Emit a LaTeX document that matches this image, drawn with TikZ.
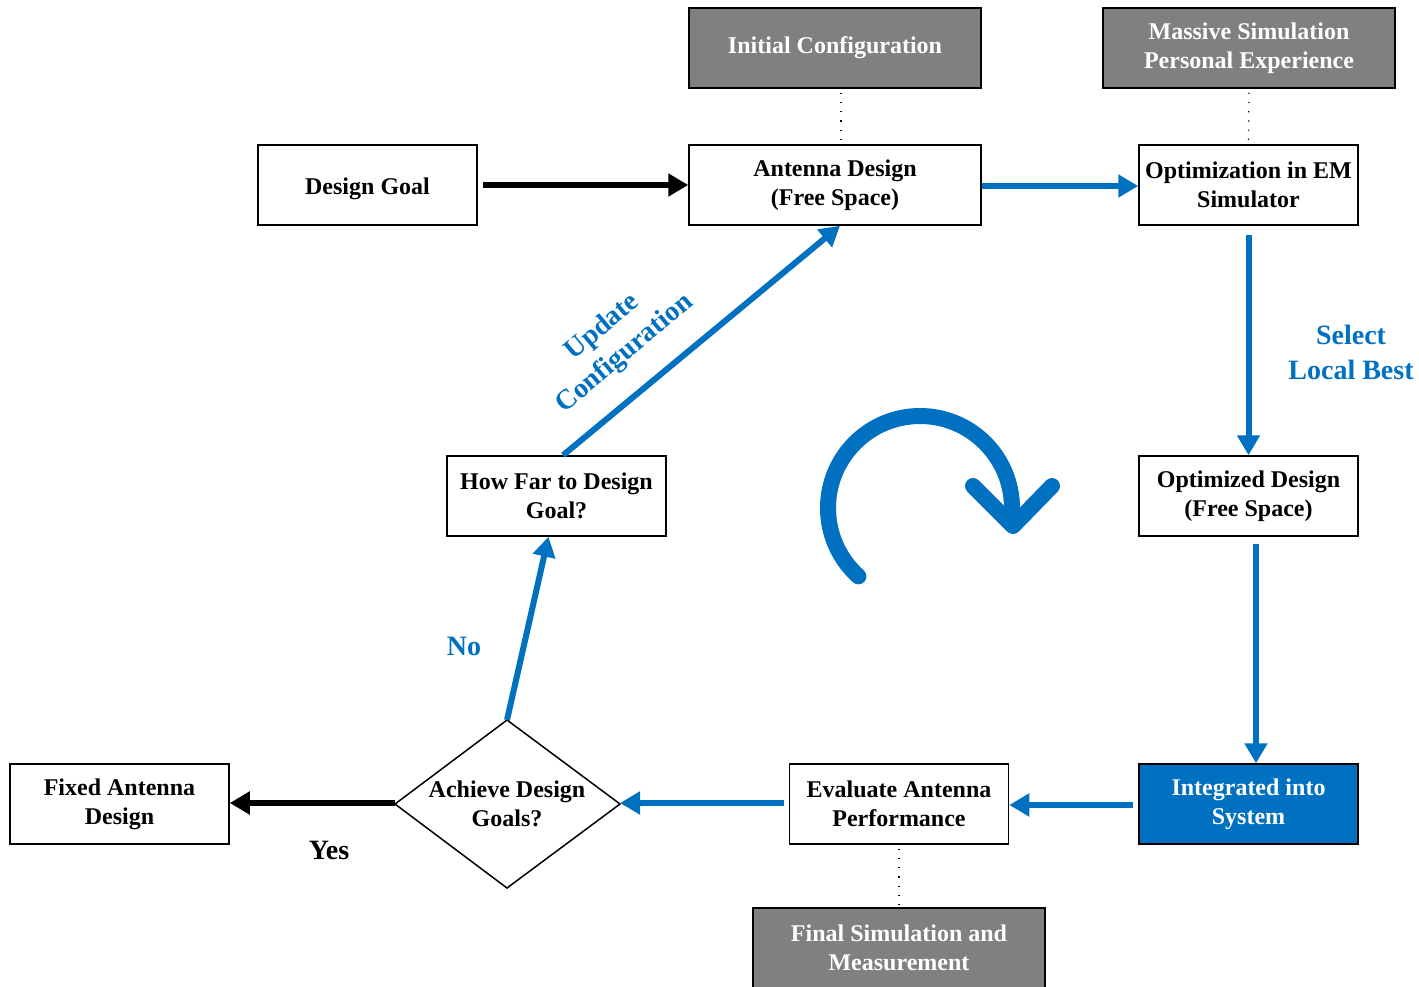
\documentclass[tikz,border=0pt]{standalone}
\usepackage{fontspec}
\setmainfont{Liberation Serif}
\usetikzlibrary{arrows.meta,calc}
\definecolor{myblue}{HTML}{0070C0}
\definecolor{mygray}{HTML}{808080}
\tikzset{
  box/.style={draw=black,line width=1.5pt,fill=white,minimum width=219pt,minimum height=80pt,inner sep=0pt,align=center,font=\fontsize{24pt}{29pt}\selectfont\bfseries},
  widebox/.style={box,minimum width=292pt},
  graybox/.style={widebox,fill=mygray,text=white},
  bluebox/.style={box,fill=myblue,text=white},
  plain/.style={inner sep=0pt,align=center,font=\fontsize{24pt}{29pt}\selectfont\bfseries},
  lbl/.style={inner sep=0pt,align=center,font=\fontsize{28pt}{35pt}\selectfont\bfseries},
  bluearrow/.style={draw=myblue,line width=6pt,-{Triangle[length=20pt,width=22pt]}},
  blackarrow/.style={draw=black,line width=6pt,-{Triangle[length=20pt,width=22pt]}},
  dots/.style={draw=black,line width=1.2pt,dash pattern=on 1.2pt off 8pt},
}
\begin{document}
\begin{tikzpicture}[x=1pt,y=-1pt]
\useasboundingbox (0,0) rectangle (1419,987);
% nodes
\node[box,text depth=0pt] (goal) at (367.5,185) {\raisebox{-3pt}{Design Goal}};
\node[widebox] (ant) at (835,185) {Antenna Design\\(Free Space)};
\node[graybox] (init) at (835,48) {\raisebox{-3pt}{Initial Configuration}};
\node[graybox] (mass) at (1249,48) {Massive Simulation\\Personal Experience};
\node[box] (opt) at (1248.5,185) {Optimization in EM\\Simulator};
\node[box] (optd) at (1248.5,496) {Optimized Design\\(Free Space)};
\node[bluebox] (integ) at (1248.5,804) {Integrated into\\System};
\node[box] (eval) at (899,804) {Evaluate Antenna\\Performance};
\node[graybox] (final) at (899,948) {Final Simulation and\\Measurement};
\node[box] (fixed) at (119.5,804) {Fixed Antenna\\Design};
\node[box] (far) at (556.5,496) {How Far to Design\\Goal?};
% diamond
\coordinate (dT) at (507,720);
\coordinate (dB) at (507,888);
\coordinate (dL) at (395,804);
\coordinate (dR) at (620,804);
\draw[line width=1.5pt,fill=white] (dT) -- (dR) -- (dB) -- (dL) -- cycle;
\node[plain] (ach) at (507,804) {Achieve Design\\Goals?};
% dotted links
\draw[dots] ([xshift=6pt,yshift=-4pt]init.south) -- ([xshift=6pt]ant.north);
\draw[dots] ([yshift=-4pt]mass.south) -- (opt.north);
\draw[dots] ([yshift=-4pt]eval.south) -- (final.north);
% connectors
\draw[blackarrow] ([xshift=5pt]goal.east) -- (ant.west);
\draw[bluearrow] ([yshift=-1pt]ant.east) -- ([yshift=-1pt]opt.west);
\draw[bluearrow] ([yshift=-9pt]opt.south) -- (optd.north);
\draw[bluearrow] ([xshift=7.5pt,yshift=-7pt]optd.south) -- ([xshift=7.5pt]integ.north);
\draw[bluearrow] ([xshift=-5pt,yshift=-1pt]integ.west) -- ([yshift=-1pt]eval.east);
\draw[bluearrow] ([xshift=-5pt,yshift=1pt]eval.west) -- ([yshift=1pt]dR);
\draw[blackarrow] ([yshift=1pt]dL) -- ([yshift=1pt]fixed.east);
\draw[bluearrow] (dT) -- ([xshift=-8pt]far.south);
\draw[bluearrow] ([xshift=6.5pt]far.north) -- ([xshift=5pt]ant.south);
% labels
\node[lbl,text=myblue] (sel) at (1351,352) {Select\\Local Best};
\node[lbl,text=myblue,rotate=40] (upd) at (614,341) {Update\\Configuration};
\node[lbl,text=myblue] (no) at (464,646) {No};
\node[lbl] (yes) at (329,850) {Yes};
% circular arrow
\coordinate (cc) at (920,508);
\draw[myblue,line width=16pt,line cap=round] ($(cc)+(132:92)$) arc[start angle=132,end angle=368,radius=92];
\draw[myblue,line width=16pt,line cap=round,line join=round] (973,486) -- (1013,526) -- (1052,486);
\end{tikzpicture}
\end{document}
